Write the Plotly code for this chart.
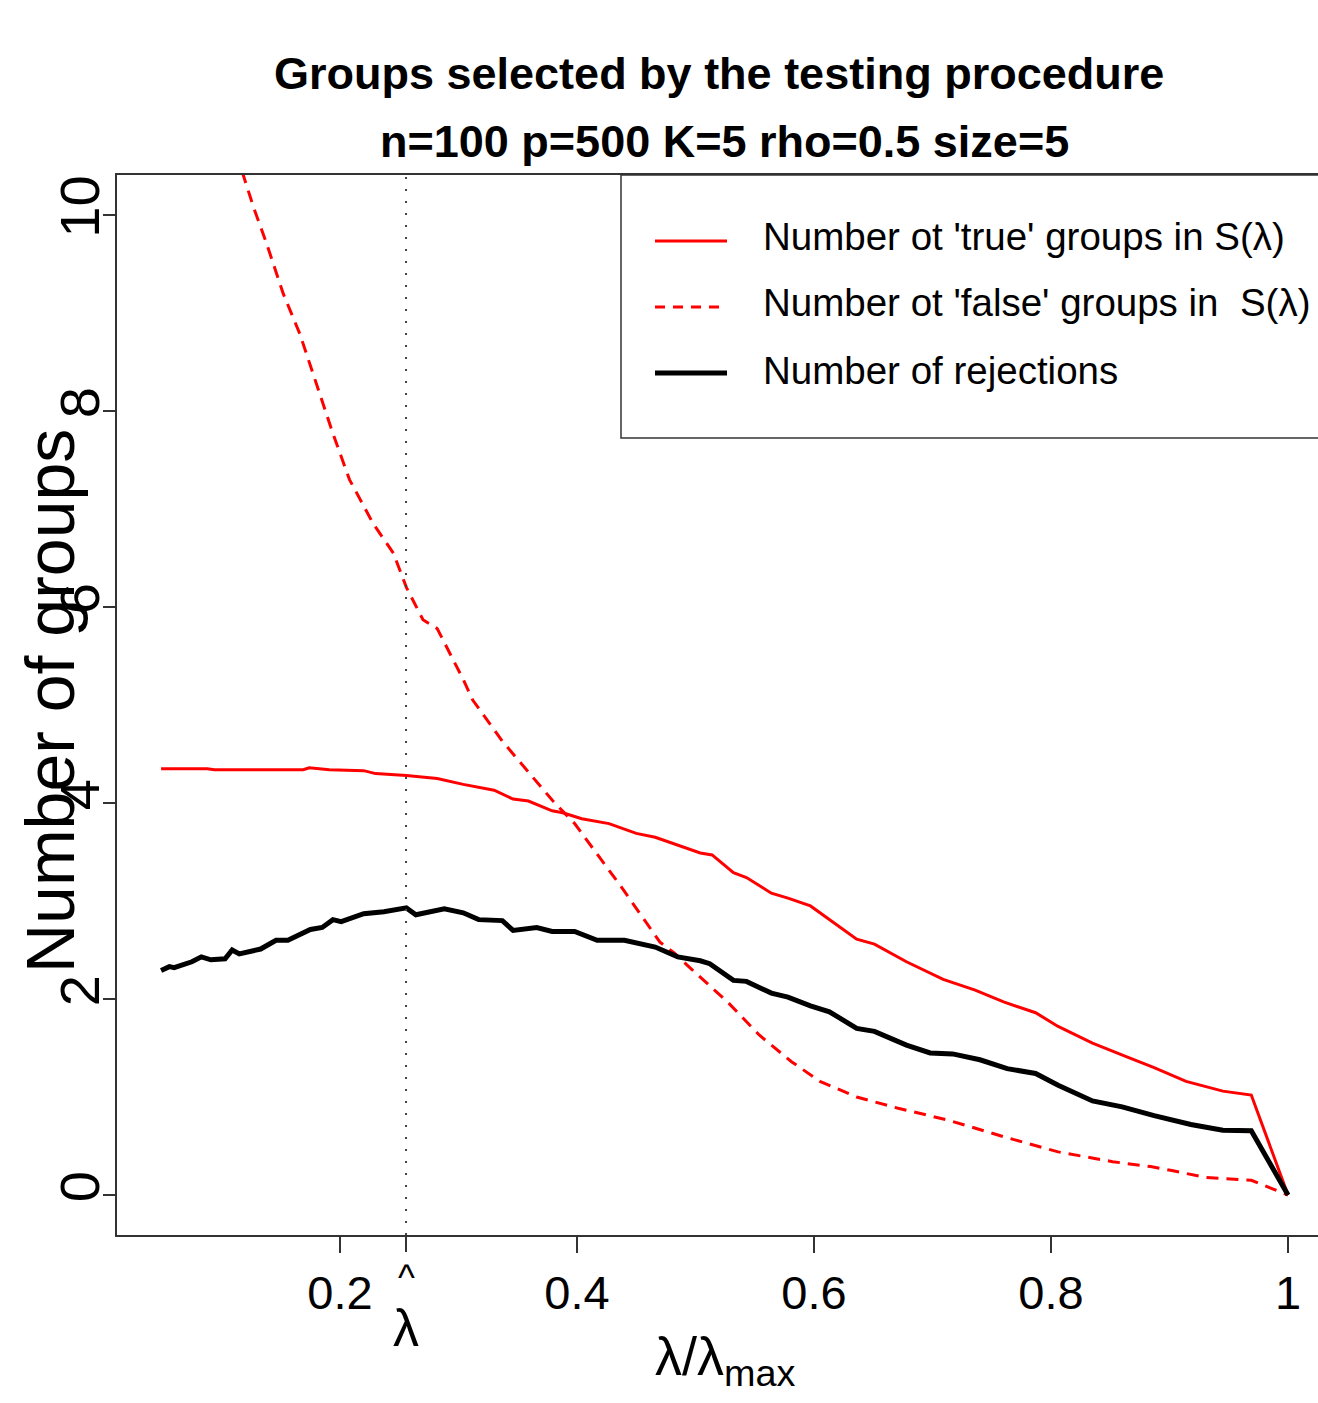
import plotly.graph_objects as go

# ---------------- data ----------------
x_true = [0.049, 0.088, 0.094, 0.169, 0.174, 0.191, 0.220, 0.230, 0.256, 0.282,
          0.304, 0.330, 0.346, 0.359, 0.379, 0.388, 0.404, 0.427, 0.450, 0.466,
          0.504, 0.514, 0.532, 0.543, 0.564, 0.578, 0.597, 0.636, 0.651, 0.678,
          0.709, 0.736, 0.760, 0.787, 0.806, 0.835, 0.864, 0.887, 0.914, 0.945,
          0.969, 1.0]
y_true = [4.35, 4.35, 4.34, 4.34, 4.36, 4.34, 4.33, 4.30, 4.28, 4.25,
          4.19, 4.13, 4.04, 4.02, 3.92, 3.90, 3.84, 3.79, 3.69, 3.65,
          3.49, 3.47, 3.29, 3.24, 3.08, 3.03, 2.95, 2.61, 2.56, 2.38,
          2.20, 2.09, 1.97, 1.86, 1.72, 1.55, 1.41, 1.30, 1.16, 1.06,
          1.02, 0.0]

x_false = [0.049, 0.080, 0.100, 0.118, 0.127, 0.138, 0.152, 0.166, 0.180, 0.194,
           0.208, 0.228, 0.245, 0.256, 0.270, 0.282, 0.304, 0.312, 0.337, 0.379,
           0.398, 0.437, 0.470, 0.482, 0.497, 0.527, 0.554, 0.581, 0.605, 0.636,
           0.671, 0.713, 0.760, 0.806, 0.852, 0.884, 0.902, 0.930, 0.969, 1.0]
y_false = [13.6, 12.0, 11.1, 10.41, 10.08, 9.71, 9.20, 8.79, 8.28, 7.77,
           7.30, 6.85, 6.55, 6.20, 5.87, 5.78, 5.26, 5.05, 4.63, 4.03,
           3.79, 3.15, 2.58, 2.47, 2.30, 1.97, 1.63, 1.36, 1.16, 1.00,
           0.885, 0.765, 0.595, 0.44, 0.34, 0.29, 0.25, 0.18, 0.15, 0.0]

x_rej = [0.049, 0.056, 0.060, 0.075, 0.083, 0.091, 0.103, 0.109, 0.115, 0.133,
         0.146, 0.156, 0.175, 0.185, 0.194, 0.201, 0.220, 0.237, 0.256, 0.264,
         0.288, 0.304, 0.317, 0.337, 0.346, 0.366, 0.379, 0.398, 0.417, 0.440,
         0.466, 0.485, 0.504, 0.512, 0.532, 0.543, 0.564, 0.578, 0.597, 0.613,
         0.636, 0.651, 0.678, 0.698, 0.717, 0.740, 0.763, 0.787, 0.806, 0.835,
         0.860, 0.887, 0.918, 0.945, 0.969, 1.0]
y_rej = [2.29, 2.33, 2.32, 2.38, 2.43, 2.40, 2.41, 2.50, 2.46, 2.51,
         2.60, 2.60, 2.71, 2.73, 2.81, 2.79, 2.87, 2.89, 2.93, 2.86,
         2.92, 2.88, 2.81, 2.80, 2.70, 2.73, 2.69, 2.69, 2.60, 2.60,
         2.53, 2.43, 2.39, 2.36, 2.19, 2.18, 2.06, 2.02, 1.93, 1.87,
         1.70, 1.67, 1.53, 1.45, 1.44, 1.38, 1.29, 1.24, 1.12, 0.96,
         0.90, 0.81, 0.72, 0.66, 0.655, 0.0]

lambda_hat = 0.2557

x_range = [0.0118, 1.0253]
y_range = [-0.408, 10.408]

x_tick_vals = [0.2, 0.4, 0.6, 0.8, 1.0]
x_tick_text = ["0.2", "0.4", "0.6", "0.8", "1"]
y_tick_vals = [0, 2, 4, 6, 8, 10]
y_tick_text = ["0", "2", "4", "6", "8", "10"]

legend_labels = ["Number ot 'true' groups in S(λ)",
                 "Number ot 'false' groups in  S(λ)",
                 "Number of rejections"]

title_lines = ["Groups selected by the testing procedure",
               "n=100 p=500 K=5 rho=0.5 size=5"]

# ---------------- styling ----------------
FONT = "Liberation Sans, Arial, Helvetica, sans-serif"
RED = "#ff0000"
AXIS = "#333333"

W, H = 1318, 1403
L, R, T, B = 117, 0, 175, 168
PW, PH = W - L - R, H - T - B


def px_x(px):
    return (px - L) / PW


def px_y(py):
    return (H - B - py) / PH


fig = go.Figure()
fig.add_trace(go.Scatter(x=x_true, y=y_true, mode="lines",
                         line=dict(color=RED, width=3), name=legend_labels[0]))
fig.add_trace(go.Scatter(x=x_false, y=y_false, mode="lines",
                         line=dict(color=RED, width=3, dash="12px,8px"), name=legend_labels[1]))
fig.add_trace(go.Scatter(x=x_rej, y=y_rej, mode="lines",
                         line=dict(color="black", width=5), name=legend_labels[2]))
# dotted vertical line at lambda-hat (on the overlay axis that carries its tick)
fig.add_trace(go.Scatter(x=[lambda_hat, lambda_hat], y=y_range, mode="lines",
                         xaxis="x2", yaxis="y", hoverinfo="skip",
                         line=dict(color="#444444", width=2, dash="2px,10px")))

# manual legend (R style box)
fig.add_shape(type="rect", xref="paper", yref="paper",
              x0=px_x(621), x1=px_x(1345), y0=px_y(438), y1=px_y(175),
              line=dict(color=AXIS, width=1.5), fillcolor="white", layer="above")
legend_styles = [dict(color=RED, width=3),
                 dict(color=RED, width=3, dash="10px,8px"),
                 dict(color="black", width=5)]
rows_line = [241, 307, 373]
rows_text = [236, 302, 370]
for lab, st, yl, yt in zip(legend_labels, legend_styles, rows_line, rows_text):
    fig.add_shape(type="line", xref="paper", yref="paper",
                  x0=px_x(655), x1=px_x(727), y0=px_y(yl), y1=px_y(yl), line=st)
    fig.add_annotation(text=lab, xref="paper", yref="paper", x=px_x(761), y=px_y(yt),
                       xanchor="left", yanchor="middle", showarrow=False,
                       font=dict(family=FONT, size=38.5, color="black"))

# title (two lines, as in R's main with \n)
fig.add_annotation(text=title_lines[0], xref="paper", yref="paper",
                   x=px_x(719), y=px_y(74), xanchor="center", yanchor="middle",
                   showarrow=False,
                   font=dict(family=FONT, size=45, color="black", weight="bold"))
fig.add_annotation(text=title_lines[1], xref="paper", yref="paper",
                   x=px_x(724), y=px_y(142), xanchor="center", yanchor="middle",
                   showarrow=False,
                   font=dict(family=FONT, size=45, color="black", weight="bold"))

# y-axis title
fig.add_annotation(text="Number of groups", xref="paper", yref="paper",
                   x=px_x(50), y=px_y(701), textangle=-90, showarrow=False,
                   xanchor="center", yanchor="middle",
                   font=dict(family=FONT, size=68, color="black"))

# hat over the lambda-hat tick label
fig.add_annotation(text="^", xref="x", yref="paper", x=lambda_hat, y=px_y(1277),
                   showarrow=False, xanchor="center", yanchor="middle",
                   font=dict(family=FONT, size=36, color="black"))

# x-axis title
fig.add_annotation(text="λ/λ<sub>max</sub>", xref="paper", yref="paper",
                   x=px_x(725), y=px_y(1324), showarrow=False,
                   xanchor="center", yanchor="top",
                   font=dict(family=FONT, size=54, color="black"))

fig.update_layout(
    width=W, height=H, autosize=False,
    margin=dict(l=L, r=R, t=T, b=B, pad=0),
    paper_bgcolor="white", plot_bgcolor="white",
    showlegend=False,
    xaxis=dict(range=x_range, tickmode="array",
               tickvals=x_tick_vals, ticktext=x_tick_text,
               ticks="outside", ticklen=16, tickwidth=1.5, tickcolor=AXIS,
               showline=True, linecolor=AXIS, linewidth=1.5, mirror=True,
               showgrid=False, zeroline=False, automargin=False,
               tickfont=dict(family=FONT, size=47, color="black")),
    xaxis2=dict(range=x_range, overlaying="x", side="bottom", anchor="y",
                tickmode="array", tickvals=[lambda_hat], ticktext=["λ"],
                ticks="outside", ticklen=16, tickwidth=1.5, tickcolor=AXIS,
                ticklabelstandoff=32,
                showline=False, showgrid=False, zeroline=False, automargin=False,
                tickfont=dict(family=FONT, size=52, color="black")),
    yaxis=dict(range=y_range, tickmode="array",
               tickvals=y_tick_vals, ticktext=y_tick_text, tickangle=-90,
               ticks="outside", ticklen=12, tickwidth=1.5, tickcolor=AXIS,
               ticklabelstandoff=-18,
               showline=True, linecolor=AXIS, linewidth=1.5, mirror=False,
               showgrid=False, zeroline=False, automargin=False,
               tickfont=dict(family=FONT, size=56, color="black")),
)

fig.write_html("out.html", config={"displayModeBar": False},
               post_script="document.body.style.margin='0px';document.body.style.overflow='hidden';")
